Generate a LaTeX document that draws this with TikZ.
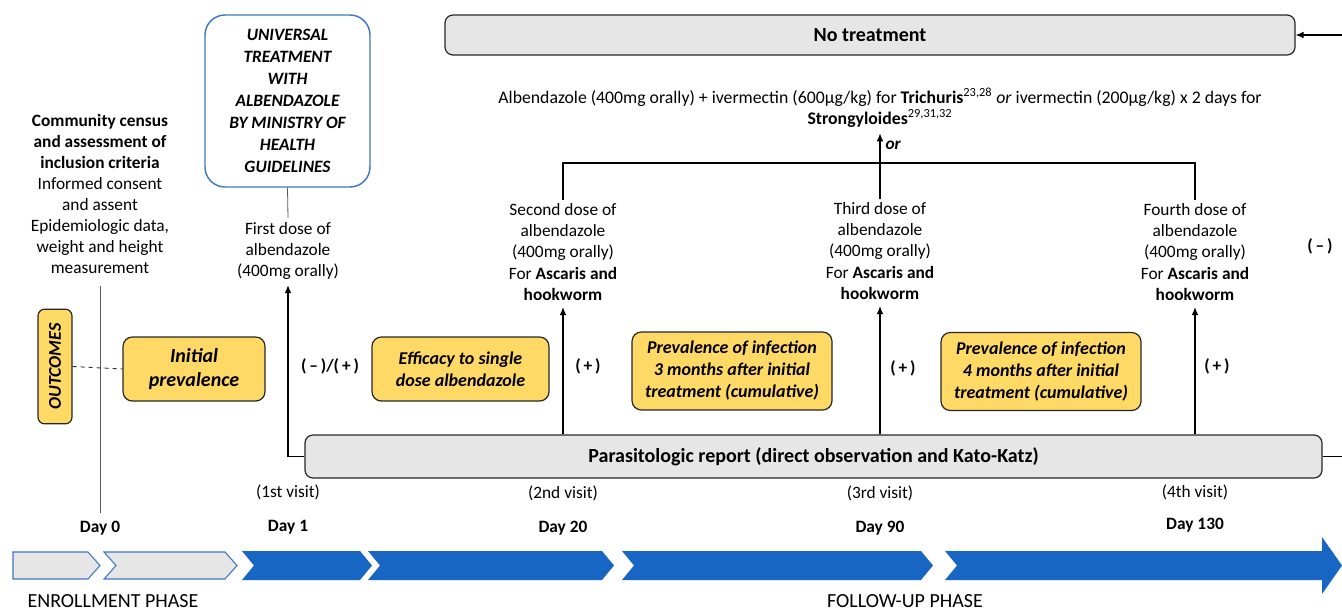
\documentclass[tikz,border=0pt]{standalone}
\usepackage{fontspec}
\setmainfont{Carlito}
\usetikzlibrary{arrows.meta,positioning}

\definecolor{outyellow}{RGB}{255,217,102}
\definecolor{boxgray}{RGB}{231,230,230}
\definecolor{phaseblue}{RGB}{24,102,196}
\definecolor{linkblue}{RGB}{62,120,198}

\begin{document}
\begin{tikzpicture}[
        x=0.75pt, y=-0.75pt,
        every node/.style={font=\fontsize{13}{15.8}\selectfont},
        txt/.style={
            align=center,
            inner sep=0pt,
        },
        ybox/.style={
            rectangle,
            rounded corners=7pt,
            draw=black!85,
            line width=0.9pt,
            fill=outyellow,
            align=center,
            font=\fontsize{13.5}{16.5}\selectfont\bfseries\itshape,
        },
        gbox/.style={
            rectangle,
            rounded corners=6pt,
            draw=black!85,
            line width=0.9pt,
            fill=boxgray,
            font=\fontsize{15}{18}\selectfont\bfseries,
        },
        day/.style={
            inner sep=0pt,
            font=\fontsize{13}{15.8}\selectfont\bfseries,
        },
        sign/.style={
            inner sep=0pt,
            font=\fontsize{13}{15.8}\selectfont\bfseries,
        },
        arr/.style={
            -{Latex[length=6pt,width=5pt]},
            line width=0.8pt,
        },
        thin/.style={
            draw=black!65,
            line width=0.6pt,
        },
        phase/.style={
            inner sep=0pt,
            font=\fontsize{15}{18}\selectfont,
        },
    ]
        \useasboundingbox (0,0) rectangle (1342,612);

        % top boxes
        \node [gbox, minimum width=637.5pt, minimum height=30pt] (notreat) at (870,35) {No treatment};
        \node [rectangle, rounded corners=15pt, draw=linkblue, line width=1.1pt, fill=white,
               minimum width=123.75pt, minimum height=129pt, align=center,
               font=\fontsize{13}{16.5}\selectfont\bfseries\itshape] (univ) at (287.5,101)
            {UNIVERSAL\\TREATMENT\\WITH\\ALBENDAZOLE\\BY MINISTRY OF\\HEALTH\\GUIDELINES};

        \node [txt, font=\fontsize{13.3}{15.8}\selectfont] (albtxt) at (880,108)
            {Albendazole (400mg orally) + ivermectin (600µg/kg) for \textbf{Trichuris}\textsuperscript{23,28} \textit{or} ivermectin (200µg/kg) x 2 days for\\
             \textbf{Strongyloides}\textsuperscript{29,31,32}};

        % doses and census
        \node [txt] (census) at (100,194)
            {\textbf{Community census}\\\textbf{and assessment of}\\\textbf{inclusion criteria}\\Informed consent\\and assent\\Epidemiologic data,\\weight and height\\measurement};
        \node [txt] (dose1) at (288,251) {First dose of\\albendazole\\(400mg orally)};
        \node [txt] (dose2) at (563,252) {Second dose of\\albendazole\\(400mg orally)\\For \textbf{Ascaris and}\\\textbf{hookworm}};
        \node [txt] (dose3) at (880,251) {Third dose of\\albendazole\\(400mg orally)\\For \textbf{Ascaris and}\\\textbf{hookworm}};
        \node [txt] (dose4) at (1195,252) {Fourth dose of\\albendazole\\(400mg orally)\\For \textbf{Ascaris and}\\\textbf{hookworm}};
        \node [sign] (neg) at (1320,246) {(\,–\,)};

        % outcomes
        \node [ybox, rotate=90, rounded corners=5pt, inner sep=0pt,
               minimum width=86pt, minimum height=25.5pt,
               font=\fontsize{13.5}{15}\selectfont\bfseries\itshape] (outc) at (55,366.5) {OUTCOMES};
        \node [ybox, minimum width=106.5pt, minimum height=48pt,
               font=\fontsize{15}{18}\selectfont\bfseries\itshape] (initp) at (194,369) {Initial\\prevalence};
        \node [ybox, minimum width=132.75pt, minimum height=48pt] (effic) at (460.5,369) {Efficacy to single\\dose albendazole};
        \node [ybox, minimum width=150pt, minimum height=58.5pt] (prev3) at (732,371) {Prevalence of infection\\3 months after initial\\treatment (cumulative)};
        \node [ybox, minimum width=150pt, minimum height=58.5pt] (prev4) at (1041,371.5) {Prevalence of infection\\4 months after initial\\treatment (cumulative)};

        \node [sign] (res1) at (330,366) {(\,–\,)/(\,+\,)};
        \node [sign] (res2) at (588,366) {(\,+\,)};
        \node [sign] (res3) at (903,368) {(\,+\,)};
        \node [sign] (res4) at (1217,366) {(\,+\,)};

        % report
        \node [gbox, minimum width=762.75pt, minimum height=32.25pt] (report) at (813.5,456.5)
            {Parasitologic report (direct observation and Kato-Katz)};

        % visits and days
        \node [txt] (visit1) at (288,492) {(1st visit)};
        \node [txt] (visit2) at (563,493) {(2nd visit)};
        \node [txt] (visit3) at (880,493) {(3rd visit)};
        \node [txt] (visit4) at (1195,492) {(4th visit)};
        \node [day] (day0) at (100,528) {Day 0};
        \node [day] (day1) at (288,527) {Day 1};
        \node [day] (day20) at (563,528) {Day 20};
        \node [day] (day90) at (880,528) {Day 90};
        \node [day] (day130) at (1195,525) {Day 130};

        % phase bar
        \filldraw [fill=boxgray, draw=linkblue, line width=0.8pt]
            (13,552) -- (88,552) -- (100,565.5) -- (88,579) -- (13,579) -- cycle;
        \filldraw [fill=boxgray, draw=linkblue, line width=0.8pt]
            (104,552) -- (225,552) -- (237,565.5) -- (225,579) -- (104,579) -- (116,565.5) -- cycle;
        \foreach \a/\b in {242/372, 368/614, 622/933}
            \fill [phaseblue] (\a,551) -- (\b-12,551) -- (\b,565.5) -- (\b-12,580) -- (\a,580) -- (\a+12,565.5) -- cycle;
        \fill [phaseblue] (945,551) -- (1322,551) -- (1322,537) -- (1342,565.5) -- (1322,594)
            -- (1322,580) -- (945,580) -- (957,565.5) -- cycle;
        \node [phase] (enroll) at (113,601) {ENROLLMENT PHASE};
        \node [phase] (follow) at (905,601) {FOLLOW-UP PHASE};

        % connectors
        \coordinate (rgt) at (1342,0);
        \coordinate (brk) at (880,163);
        \draw [thin] (census.south) ++(0,12) -- ([yshift=6pt]day0.north);
        \draw [thin] (univ.south) -- ([yshift=3pt]dose1.north);
        \draw [dashed, black!80, line width=0.7pt] (outc.south) -- (initp.west);
        \draw [arr] (report.west) -| ([yshift=-4pt]dose1.south);
        \draw [arr] (report.north -| dose2) -- ([yshift=-5pt]dose2.south);
        \draw [arr] (report.north -| dose3) -- ([yshift=-5pt]dose3.south);
        \draw [arr] (report.north -| dose4) -- ([yshift=-5pt]dose4.south);
        \draw [line width=0.8pt] ([yshift=3pt]dose2.north) |- (brk) -| ([yshift=3pt]dose4.north);
        \draw [arr] ([yshift=3pt]dose3.north) -- ([yshift=-4pt]albtxt.south -| dose3);
        \node [sign, font=\fontsize{13}{15.8}\selectfont\bfseries\itshape, right=4pt of brk, yshift=13pt] (ortxt) {or};
        \draw [line width=0.8pt] (report.east) -- (report.east -| rgt);
        \draw [arr] (notreat.east -| rgt) -- (notreat.east);
    \end{tikzpicture}
\end{document}
